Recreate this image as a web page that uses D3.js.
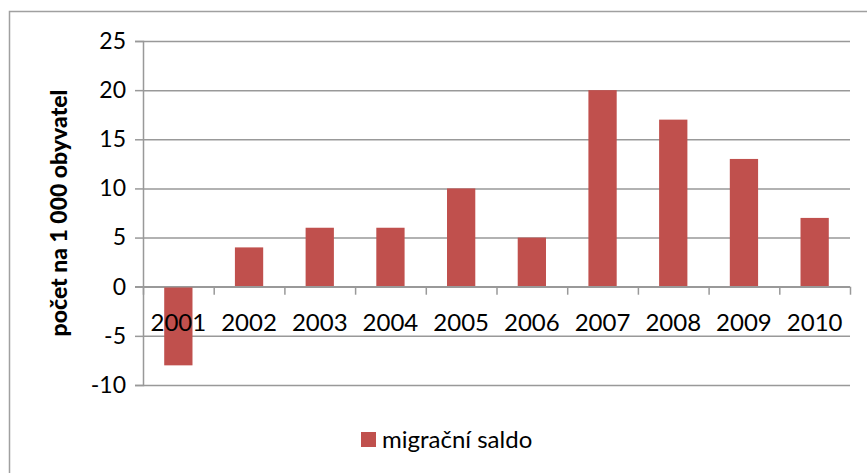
<!DOCTYPE html>
<html>
<head>
<meta charset="utf-8">
<script src="https://cdn.jsdelivr.net/npm/d3@7"></script>
<style>
  html, body { margin: 0; padding: 0; background: #fff; }
  svg { display: block; font-family: Lato, "Open Sans", sans-serif; }
</style>
</head>
<body>
<div id="chart"></div>
<script>
// data
const years = ["2001","2002","2003","2004","2005","2006","2007","2008","2009","2010"];
const saldo = [-8, 4, 6, 6, 10, 5, 20, 17, 13, 7];
const yTicks = [-10, -5, 0, 5, 10, 15, 20, 25];
const seriesName = "migrační saldo";
const yTitle = "počet na 1 000 obyvatel";

const W = 867, H = 473;
const barColor = "#c0504d";
const gridColor = "#999";

const svg = d3.select("#chart").append("svg")
  .attr("width", W).attr("height", H);

// outer chart frame (runs off the right and bottom edge)
svg.append("rect")
  .attr("x", 9.5).attr("y", 11.5)
  .attr("width", W).attr("height", H)
  .attr("fill", "none")
  .attr("stroke", "#a0a0a0")
  .attr("stroke-width", 1.5);

const plot = { left: 143, right: 850, top: 41, bottom: 385 };

const x = d3.scaleBand()
  .domain(years)
  .range([plot.left, plot.right])
  .paddingInner(0.6)
  .paddingOuter(0.3);

const y = d3.scaleLinear()
  .domain([-10, 25])
  .range([plot.bottom, plot.top]);

// gridlines + y labels (plain hyphen for negatives, like the original)
const yAxis = d3.axisLeft(y).tickValues(yTicks).tickSize(8).tickPadding(9)
  .tickFormat(d => String(d));
svg.append("g")
  .attr("transform", `translate(${plot.left},0)`)
  .call(yAxis)
  .call(g => g.select(".domain").attr("stroke", gridColor).attr("stroke-width", 1.5))
  .call(g => g.selectAll(".tick line").attr("stroke", gridColor).attr("stroke-width", 1.5))
  .call(g => g.selectAll(".tick text")
    .attr("font-size", 23).attr("fill", "#000")
    .attr("font-family", "Lato, sans-serif"))
  .call(g => g.selectAll(".tick").append("line")
    .attr("x1", 0).attr("x2", plot.right - plot.left)
    .attr("stroke", gridColor).attr("stroke-width", 1.5));

// bars
svg.append("g")
  .selectAll("rect")
  .data(years.map((yr, i) => ({ yr, v: saldo[i] })))
  .join("rect")
  .attr("x", d => x(d.yr))
  .attr("width", x.bandwidth())
  .attr("y", d => y(Math.max(0, d.v)))
  .attr("height", d => Math.abs(y(d.v) - y(0)))
  .attr("fill", barColor);

// category axis on the zero line
const xOuter = d3.scaleLinear().domain([0, years.length]).range([plot.left, plot.right]);
const xAxisG = svg.append("g").attr("transform", `translate(0,${y(0)})`);
xAxisG.append("g")
  .call(d3.axisBottom(xOuter).tickValues(d3.range(years.length + 1)).tickSize(8).tickFormat(""))
  .call(g => g.select(".domain").remove())
  .call(g => g.selectAll(".tick line").attr("stroke", gridColor).attr("stroke-width", 1.5));
xAxisG.append("line")
  .attr("x1", plot.left - 8).attr("x2", plot.right)
  .attr("stroke", gridColor).attr("stroke-width", 1.5);
xAxisG.selectAll("text.cat")
  .data(years)
  .join("text")
  .attr("class", "cat")
  .attr("x", d => x(d) + x.bandwidth() / 2)
  .attr("y", 44)
  .attr("text-anchor", "middle")
  .attr("font-size", 24)
  .attr("fill", "#000")
  .text(d => d);

// y title
svg.append("text")
  .attr("transform", `translate(67,${(plot.top + plot.bottom) / 2}) rotate(-90)`)
  .attr("text-anchor", "middle")
  .attr("font-size", 23)
  .attr("font-weight", 900)
  .attr("fill", "#000")
  .text(yTitle);

// legend
const lg = svg.append("g").attr("transform", "translate(361,432)");
lg.append("rect").attr("width", 15).attr("height", 15).attr("fill", barColor);
lg.append("text")
  .attr("x", 21).attr("y", 16)
  .attr("font-size", 24)
  .attr("fill", "#000")
  .text(seriesName);
</script>
</body>
</html>
